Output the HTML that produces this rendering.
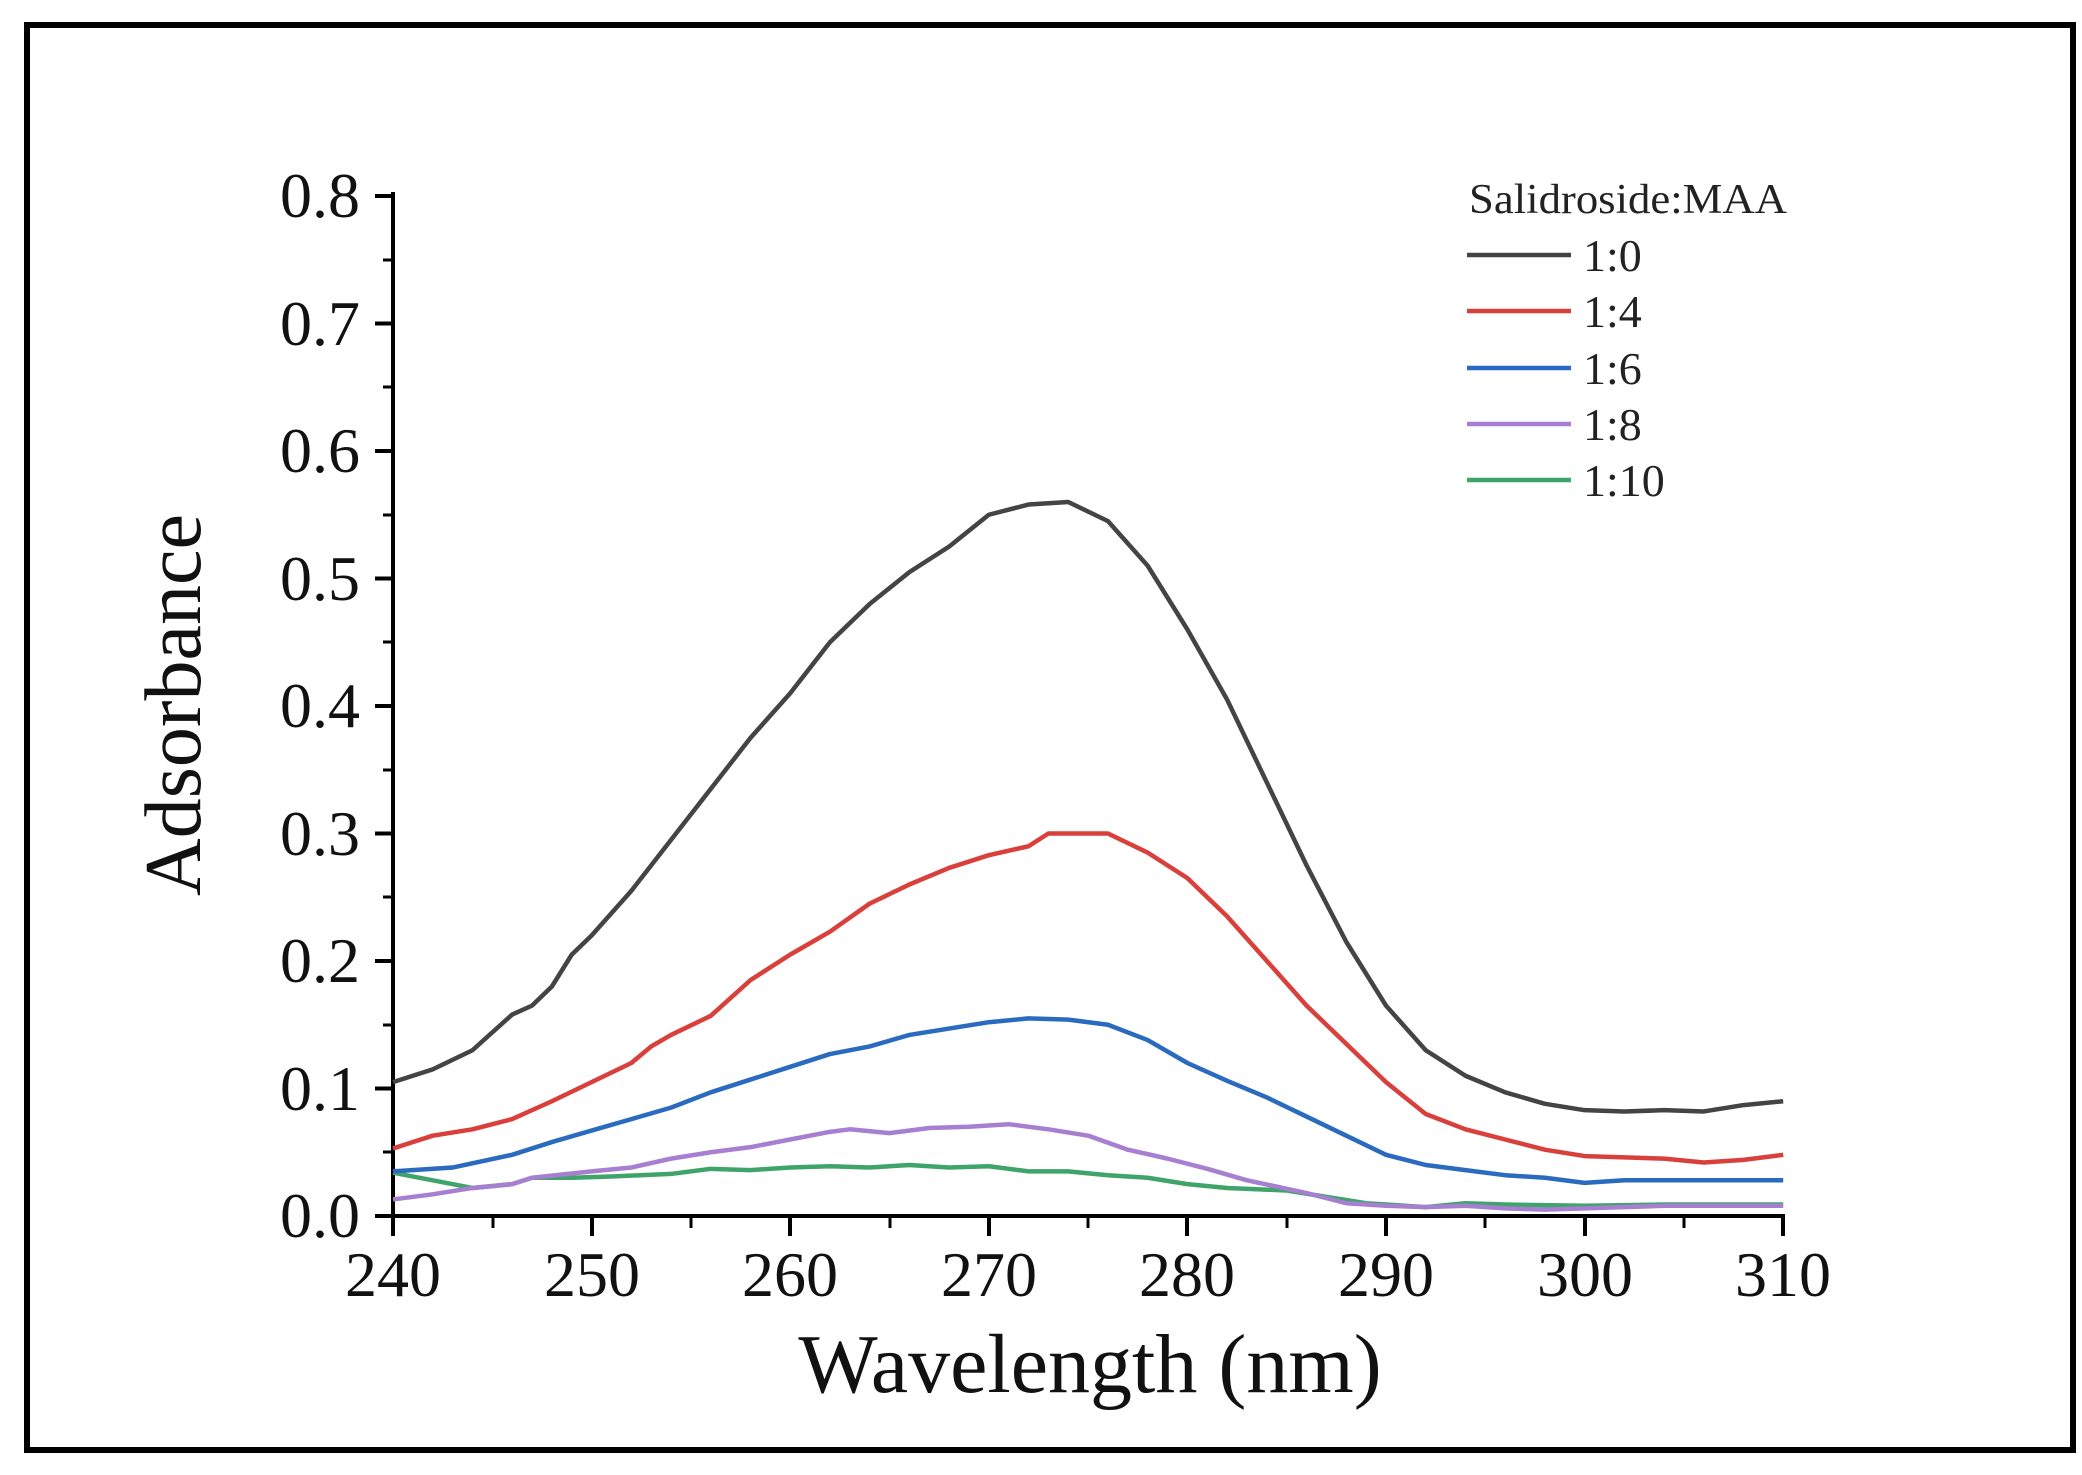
<!DOCTYPE html>
<html><head><meta charset="utf-8"><style>html,body{margin:0;padding:0;background:#fff}svg{display:block}</style></head>
<body>
<svg width="2082" height="1475" viewBox="0 0 2082 1475" xmlns="http://www.w3.org/2000/svg" font-family="Liberation Serif, serif">
<rect x="0" y="0" width="2082" height="1475" fill="#fff"/>
<rect x="27" y="25" width="2046" height="1425" fill="none" stroke="#000" stroke-width="6"/>
<g stroke="#000" stroke-width="4" fill="none">
<line x1="393" y1="192" x2="393" y2="1218"/>
<line x1="391" y1="1216" x2="1785" y2="1216"/>
<path d="M375 1216H393M375 1088.5H393M375 961H393M375 833.5H393M375 706H393M375 578.5H393M375 451H393M375 323.5H393M375 196H393"/>
<path d="M383 1152H393M383 1025H393M383 897H393M383 770H393M383 642H393M383 515H393M383 387H393M383 260H393" stroke-width="3"/>
<path d="M393 1216V1236M592 1216V1236M790 1216V1236M989 1216V1236M1187 1216V1236M1386 1216V1236M1585 1216V1236M1783 1216V1236"/>
<path d="M493 1216V1228M691 1216V1228M890 1216V1228M1088 1216V1228M1287 1216V1228M1485 1216V1228M1684 1216V1228" stroke-width="3"/>
</g>
<g font-size="64" fill="#111" text-anchor="end">
<text x="360" y="1237">0.0</text><text x="360" y="1110">0.1</text><text x="360" y="982">0.2</text><text x="360" y="855">0.3</text><text x="360" y="727">0.4</text><text x="360" y="600">0.5</text><text x="360" y="472">0.6</text><text x="360" y="345">0.7</text><text x="360" y="217">0.8</text>
</g>
<g font-size="64" fill="#111" text-anchor="middle">
<text x="393" y="1296">240</text><text x="592" y="1296">250</text><text x="790" y="1296">260</text><text x="989" y="1296">270</text><text x="1187" y="1296">280</text><text x="1386" y="1296">290</text><text x="1585" y="1296">300</text><text x="1783" y="1296">310</text>
</g>
<text x="1090" y="1392" font-size="84" text-anchor="middle" fill="#111">Wavelength (nm)</text>
<text transform="translate(200,705) rotate(-90)" font-size="80" text-anchor="middle" fill="#111">Adsorbance</text>
<text x="1469" y="213" font-size="42" fill="#222" textLength="318" lengthAdjust="spacingAndGlyphs">Salidroside:MAA</text>
<g stroke-width="4.5">
<line x1="1467" y1="255" x2="1571" y2="255" stroke="#444"/>
<line x1="1467" y1="311" x2="1571" y2="311" stroke="#d9403c"/>
<line x1="1467" y1="368" x2="1571" y2="368" stroke="#2a6bbf"/>
<line x1="1467" y1="424" x2="1571" y2="424" stroke="#a77fd0"/>
<line x1="1467" y1="480" x2="1571" y2="480" stroke="#3fa46a"/>
</g>
<g font-size="46" fill="#222">
<text x="1583" y="271">1:0</text><text x="1583" y="327">1:4</text><text x="1583" y="384">1:6</text><text x="1583" y="440">1:8</text><text x="1583" y="496">1:10</text>
</g>
<g transform="translate(393,1216) scale(19.86,-1275)" fill="none" stroke-width="4.5" stroke-linejoin="round">
<path vector-effect="non-scaling-stroke" stroke="#3fa46a" d="M0 .034L2 .028L4 .022L6 .025L7 .03L9 .03L11 .031L14 .033L16 .037L18 .036L20 .038L22 .039L24 .038L26 .04L28 .038L30 .039L32 .035L34 .035L36 .032L38 .03L40 .025L42 .022L45 .02L47 .015L49 .01L52 .007L54 .01L56 .009L60 .008L64 .009L70 .009"/>
<path vector-effect="non-scaling-stroke" stroke="#a77fd0" d="M0 .013L2 .017L4 .022L6 .025L7 .03L10 .035L12 .038L14 .045L16 .05L18 .054L20 .06L22 .066L23 .068L25 .065L27 .069L29 .07L31 .072L33 .068L35 .063L37 .052L39 .045L41 .037L43 .028L46 .018L48 .01L50 .008L52 .007L54 .008L56 .006L58 .005L60 .006L64 .008L70 .008"/>
<path vector-effect="non-scaling-stroke" stroke="#2a6bbf" d="M0 .035L3 .038L6 .048L8 .058L10 .067L12 .076L14 .085L16 .097L18 .107L20 .117L22 .127L24 .133L26 .142L28 .147L30 .152L32 .155L34 .154L36 .15L38 .138L40 .12L42 .106L44 .093L46 .078L48 .063L50 .048L52 .04L54 .036L56 .032L58 .03L60 .026L62 .028L64 .028L66 .028L70 .028"/>
<path vector-effect="non-scaling-stroke" stroke="#d9403c" d="M0 .053L2 .063L4 .068L6 .076L8 .09L10 .105L12 .12L13 .133L14 .142L16 .157L18 .185L20 .205L22 .223L24 .245L26 .26L28 .273L30 .283L32 .29L33 .3L36 .3L38 .285L40 .265L42 .235L44 .2L46 .165L48 .135L50 .105L52 .08L54 .068L56 .06L58 .052L60 .047L62 .046L64 .045L66 .042L68 .044L70 .048"/>
<path vector-effect="non-scaling-stroke" stroke="#444" d="M0 .105L2 .115L4 .13L6 .158L7 .165L8 .18L9 .205L10 .22L12 .255L14 .295L16 .335L18 .375L20 .41L22 .45L24 .48L26 .505L28 .525L30 .55L32 .558L34 .56L36 .545L38 .51L40 .46L42 .405L44 .34L46 .275L48 .215L50 .165L52 .13L54 .11L56 .097L58 .088L60 .083L62 .082L64 .083L66 .082L68 .087L70 .09"/>
</g>
</svg>
</body></html>
